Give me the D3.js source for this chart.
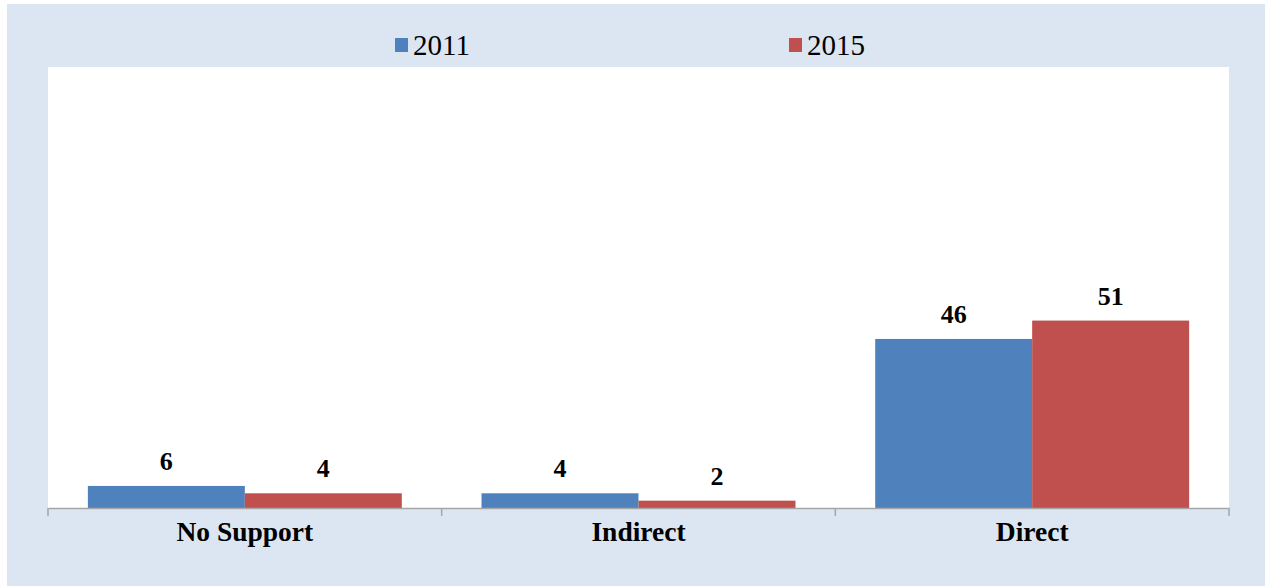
<!DOCTYPE html>
<html>
<head>
<meta charset="utf-8">
<script src="https://cdn.jsdelivr.net/npm/d3@7"></script>
<style>
  body { margin: 0; background: #fff; }
  svg { display: block; }
</style>
</head>
<body>
<div id="chart"></div>
<script>
const categories = ["No Support", "Indirect", "Direct"];
const seriesNames = ["2011", "2015"];
const values2011 = [6, 4, 46];
const values2015 = [4, 2, 51];
const colors = ["#4f81bd", "#c0504d"];

const W = 1265, H = 586;
const svg = d3.select("#chart").append("svg").attr("width", W).attr("height", H);

// outer chart area
svg.append("rect").attr("x", 7).attr("y", 4).attr("width", W - 7).attr("height", H - 4).attr("fill", "#dce6f2");

const plot = { left: 48, top: 67, right: 1229, bottom: 508 };
svg.append("rect")
  .attr("x", plot.left).attr("y", plot.top)
  .attr("width", plot.right - plot.left).attr("height", plot.bottom - plot.top)
  .attr("fill", "#fff");

const x0 = d3.scaleBand().domain(categories).range([plot.left, plot.right]).paddingInner(0).paddingOuter(0);
const x1 = d3.scaleBand().domain(seriesNames).range([0, x0.bandwidth()]).paddingOuter(0.254).paddingInner(0);
const y = d3.scaleLinear().domain([0, 120]).range([plot.bottom, plot.top]);

const data = categories.map((c, i) => ({ cat: c, vals: [values2011[i], values2015[i]] }));

const groups = svg.selectAll("g.grp").data(data).enter().append("g")
  .attr("class", "grp")
  .attr("transform", d => `translate(${x0(d.cat)},0)`);

groups.selectAll("rect").data(d => d.vals.map((v, j) => ({ v, s: seriesNames[j], j }))).enter()
  .append("rect")
  .attr("x", d => x1(d.s))
  .attr("y", d => y(d.v))
  .attr("width", x1.bandwidth())
  .attr("height", d => plot.bottom - y(d.v))
  .attr("fill", d => colors[d.j]);

groups.selectAll("text.val").data(d => d.vals.map((v, j) => ({ v, s: seriesNames[j] }))).enter()
  .append("text")
  .attr("class", "val")
  .attr("x", d => x1(d.s) + x1.bandwidth() / 2)
  .attr("y", d => y(d.v) - 16)
  .attr("text-anchor", "middle")
  .attr("font-family", "Liberation Serif, serif")
  .attr("font-weight", "bold")
  .attr("font-size", 26)
  .attr("fill", "#000")
  .text(d => d.v);

// x axis
const axis = svg.append("g").attr("transform", `translate(0,${plot.bottom})`)
  .call(d3.axisBottom(x0).tickSize(0).tickFormat(""));
axis.select(".domain").attr("stroke", "#a6a6a6").attr("stroke-width", 1.5);
axis.selectAll(".tick").remove();
const tickXs = categories.map(c => x0(c)).concat([x0(categories[categories.length - 1]) + x0.bandwidth()]);
axis.selectAll("line.tk").data(tickXs).enter().append("line")
  .attr("x1", d => d).attr("x2", d => d).attr("y1", 0).attr("y2", 8)
  .attr("stroke", "#a6a6a6").attr("stroke-width", 1.5);

svg.selectAll("text.cat").data(categories).enter().append("text")
  .attr("class", "cat")
  .attr("x", d => x0(d) + x0.bandwidth() / 2)
  .attr("y", 541)
  .attr("text-anchor", "middle")
  .attr("font-family", "Liberation Serif, serif")
  .attr("font-weight", "bold")
  .attr("font-size", 27.5)
  .text(d => d);

// legend
const legendX = [395, 789];
const legend = svg.selectAll("g.leg").data(seriesNames).enter().append("g")
  .attr("class", "leg")
  .attr("transform", (d, i) => `translate(${legendX[i]},0)`);
legend.append("rect").attr("x", 0).attr("y", 38).attr("width", 13).attr("height", 14)
  .attr("fill", (d, i) => colors[i]);
legend.append("text").attr("x", 18).attr("y", 55)
  .attr("font-family", "Liberation Serif, serif")
  .attr("font-size", 29)
  .text(d => d);
</script>
</body>
</html>
